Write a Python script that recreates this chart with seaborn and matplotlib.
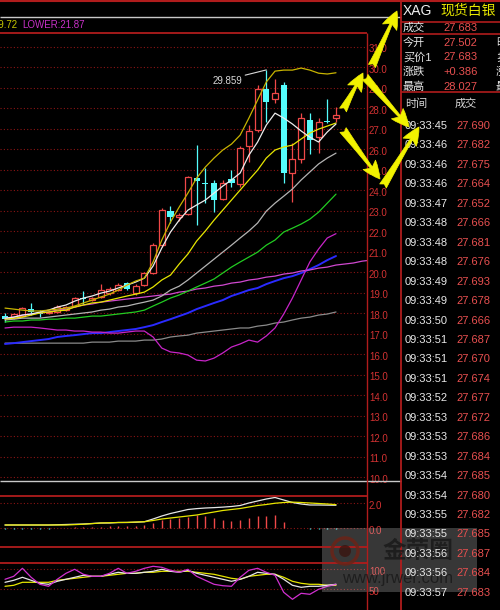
import numpy as np
import pandas as pd
import matplotlib
matplotlib.use("Agg")
import matplotlib.pyplot as plt
import matplotlib.transforms as mtransforms
from matplotlib.patches import Rectangle, Circle
import seaborn as sns

# XAG candles, oldest first
opens = [17.85, 17.75, 17.85, 18.19, 18.05, 18.00, 18.05, 18.14, 18.34, 18.75,
         18.63, 18.78, 18.97, 19.12, 19.46, 18.97, 19.36, 19.95, 21.31, 22.97,
         22.68, 22.83, 24.58, 24.35, 24.34, 23.56, 24.53, 24.29, 26.14, 26.92,
         28.92, 28.44, 29.12, 24.83, 25.51, 27.41, 26.58, 27.39, 27.50]
highs = [18.00, 18.00, 18.30, 18.49, 18.14, 18.10, 18.40, 18.35, 18.78, 19.07,
         18.80, 19.40, 19.25, 19.45, 19.50, 19.40, 20.00, 21.40, 23.10, 23.22,
         22.88, 24.70, 26.19, 25.07, 24.49, 24.49, 24.97, 26.14, 27.17, 29.12,
         29.859, 29.41, 29.27, 26.29, 27.75, 27.75, 27.51, 28.46, 28.03]
lows = [17.56, 17.70, 17.80, 17.90, 17.80, 17.95, 18.00, 18.10, 18.30, 18.44,
        18.60, 18.75, 18.90, 19.05, 19.10, 18.90, 19.30, 19.90, 21.20, 22.39,
        22.49, 22.80, 22.29, 23.36, 22.92, 23.50, 24.14, 24.14, 25.36, 26.83,
        27.31, 28.24, 24.34, 23.41, 25.31, 25.75, 25.80, 27.27, 27.31]
closes = [17.70, 17.95, 18.24, 18.05, 17.98, 18.05, 18.29, 18.29, 18.73, 18.68,
          18.73, 19.12, 19.17, 19.36, 19.17, 19.31, 19.95, 21.31, 23.02, 22.68,
          22.78, 24.63, 24.44, 24.30, 23.51, 24.34, 24.34, 26.05, 26.88, 28.92,
          28.29, 28.73, 24.83, 25.51, 27.51, 26.44, 27.31, 27.34, 27.68]

# BOLL bands
boll_upper = [18.24, 18.19, 18.14, 18.10, 18.10, 18.14, 18.19, 18.24, 18.34, 18.49,
              18.63, 18.78, 18.92, 19.12, 19.36, 19.56, 19.70, 20.49, 21.56, 22.44,
              23.17, 23.85, 24.58, 25.12, 25.56, 25.95, 26.24, 26.68, 27.51, 28.39,
              29.27, 29.80, 29.85, 29.85, 29.95, 29.85, 29.70, 29.66, 29.72]
boll_mid = [17.66, 17.70, 17.75, 17.75, 17.75, 17.80, 17.85, 17.90, 17.95, 18.00,
            18.05, 18.14, 18.19, 18.29, 18.34, 18.44, 18.53, 18.63, 18.83, 19.12,
            19.31, 19.61, 19.95, 20.29, 20.63, 20.97, 21.31, 21.66, 22.00, 22.39,
            22.97, 23.36, 23.70, 24.05, 24.49, 24.88, 25.27, 25.56, 25.80]
boll_lower = [17.27, 17.31, 17.31, 17.31, 17.27, 17.22, 17.17, 17.17, 17.12, 17.12,
              17.07, 17.07, 17.02, 17.02, 17.07, 17.12, 17.12, 16.83, 16.29, 16.10,
              16.05, 15.95, 15.70, 15.66, 15.80, 16.05, 16.34, 16.49, 16.68, 16.58,
              16.88, 17.27, 17.95, 18.73, 19.61, 20.49, 21.12, 21.66, 21.87]

# moving averages
ma_white = [17.75, 17.80, 17.90, 17.95, 18.05, 18.14, 18.29, 18.39, 18.58, 18.73,
            18.83, 18.97, 19.07, 19.22, 19.36, 19.51, 19.70, 20.29, 21.17, 21.95,
            22.53, 23.02, 23.27, 23.51, 23.85, 24.19, 24.49, 24.83, 25.70, 26.34,
            27.17, 27.75, 27.51, 27.22, 26.88, 26.58, 26.34, 26.83, 27.22]
ma_yellow = [17.70, 17.75, 17.80, 17.90, 18.00, 18.05, 18.10, 18.14, 18.29, 18.39,
             18.49, 18.53, 18.63, 18.73, 18.83, 18.92, 19.02, 19.27, 19.61, 19.85,
             20.39, 20.88, 21.51, 22.00, 22.53, 23.02, 23.51, 24.00, 24.49, 24.97,
             25.56, 25.95, 26.10, 26.19, 26.49, 26.78, 26.97, 27.12, 27.27]
ma_green = [17.56, 17.61, 17.61, 17.66, 17.66, 17.70, 17.70, 17.75, 17.75, 17.80,
            17.85, 17.85, 17.90, 17.95, 18.00, 18.05, 18.14, 18.34, 18.53, 18.73,
            18.88, 19.07, 19.27, 19.46, 19.66, 19.95, 20.24, 20.49, 20.73, 20.97,
            21.31, 21.56, 21.95, 22.14, 22.34, 22.58, 22.92, 23.36, 23.80]
ma_magenta = [17.75, 17.80, 17.90, 17.95, 18.00, 18.05, 18.14, 18.19, 18.29, 18.39,
              18.44, 18.53, 18.58, 18.63, 18.68, 18.73, 18.78, 18.83, 18.88, 18.92,
              19.02, 19.07, 19.17, 19.22, 19.31, 19.36, 19.46, 19.51, 19.61, 19.66,
              19.75, 19.80, 19.90, 19.95, 20.05, 20.10, 20.19, 20.24, 20.34, 20.39,
              20.44, 20.53, 20.58]
ma_blue = [16.49, 16.53, 16.58, 16.63, 16.68, 16.73, 16.83, 16.88, 16.92, 16.97,
           17.02, 17.02, 17.07, 17.12, 17.17, 17.22, 17.31, 17.41, 17.56, 17.70,
           17.85, 18.00, 18.19, 18.34, 18.49, 18.63, 18.83, 18.97, 19.12, 19.22,
           19.41, 19.56, 19.70, 19.80, 19.95, 20.14, 20.34, 20.58, 20.78]
ma_gray = [16.53, 16.53, 16.53, 16.53, 16.53, 16.53, 16.53, 16.53, 16.53, 16.53,
           16.58, 16.58, 16.58, 16.63, 16.63, 16.63, 16.68, 16.68, 16.73, 16.83,
           16.88, 16.92, 17.02, 17.07, 17.12, 17.17, 17.22, 17.27, 17.27, 17.36,
           17.41, 17.51, 17.56, 17.66, 17.75, 17.80, 17.90, 17.95, 18.05]

# MACD
dif = [0.26, 0.26, 0.26, 0.26, 0.26, 0.26, 0.28, 0.30, 0.32, 0.34,
       0.38, 0.42, 0.42, 0.46, 0.46, 0.48, 0.52, 0.74, 0.98, 1.18,
       1.34, 1.50, 1.57, 1.62, 1.65, 1.69, 1.74, 1.82, 2.02, 2.18,
       2.34, 2.46, 2.26, 2.06, 1.94, 1.86, 1.86, 1.85, 1.84]
dea = [0.26, 0.26, 0.26, 0.26, 0.26, 0.26, 0.26, 0.26, 0.29, 0.32,
       0.37, 0.42, 0.44, 0.46, 0.47, 0.50, 0.52, 0.62, 0.74, 0.82,
       0.90, 0.98, 1.06, 1.18, 1.30, 1.42, 1.50, 1.58, 1.70, 1.82,
       1.90, 2.00, 2.06, 2.09, 2.06, 2.02, 1.98, 1.94, 1.89]
macd_bar = [-0.04, -0.04, -0.04, -0.04, -0.04, -0.04, 0.04, 0.04, 0.08, 0.08,
            0.08, 0.08, 0.19, 0.19, 0.19, 0.19, 0.27, 0.45, 0.67, 0.75,
            0.80, 0.93, 1.07, 0.99, 0.80, 0.67, 0.59, 0.67, 0.80, 0.99,
            0.99, 1.07, 0.53, 0.0, 0.0, -0.06, -0.06, -0.06, -0.06]

# KDJ
k_line = [67.5, 72.5, 80, 72.5, 65, 62.5, 70, 75, 80, 85,
          82.5, 82.5, 87.5, 92.5, 90, 90, 92.5, 95, 100, 95,
          92.5, 97.5, 90, 85, 80, 75, 70, 75, 82.5, 92.5,
          90, 87.5, 75, 60, 55, 57.5, 57.5, 60, 62.5]
d_line = [57.5, 60, 67.5, 67.5, 67.5, 67.5, 72.5, 75, 77.5, 80,
          82.5, 82.5, 85, 87.5, 90, 90, 92.5, 92.5, 95, 95,
          95, 95, 92.5, 90, 87.5, 82.5, 77.5, 75, 82.5, 85,
          87.5, 87.5, 80, 70, 65, 62.5, 62.5, 60, 60]
j_line = [75, 82.5, 102.5, 80, 62.5, 57.5, 75, 90, 100, 87.5,
          82.5, 82.5, 90, 102.5, 90, 95, 102.5, 107.5, 105, 97.5,
          92.5, 100, 82.5, 72.5, 62.5, 59, 57.5, 80, 97.5, 102.5,
          92.5, 85, 42.5, 25, 40, 37.5, 50, 57.5, 62.5]

# quote panel
quote_labels = ["成交", "今开", "买价1", "涨跌", "最高"]
quote_values = ["27.683", "27.502", "27.683", "+0.386", "28.027"]
quote_right = ["", "昨收", "卖价1", "涨幅", "最低"]
tick_times = ["09:33:45", "09:33:46", "09:33:46", "09:33:46", "09:33:47",
              "09:33:48", "09:33:48", "09:33:48", "09:33:49", "09:33:49",
              "09:33:50", "09:33:51", "09:33:51", "09:33:51", "09:33:52",
              "09:33:53", "09:33:53", "09:33:53", "09:33:54", "09:33:54",
              "09:33:55", "09:33:55", "09:33:56", "09:33:56", "09:33:57"]
tick_prices = ["27.690", "27.682", "27.675", "27.664", "27.652",
               "27.666", "27.681", "27.676", "27.693", "27.678",
               "27.666", "27.687", "27.670", "27.674", "27.677",
               "27.672", "27.686", "27.684", "27.685", "27.680",
               "27.682", "27.685", "27.687", "27.684", "27.683"]

sns.set_theme(style="dark", rc={"axes.facecolor": "black", "figure.facecolor": "black"})
plt.rcParams["font.family"] = ["Liberation Sans", "Noto Sans CJK SC", "DejaVu Sans"]

W, H = 500, 610
UP, DOWN = "#f04848", "#54fcfc"
RED_LINE = "#b01c1c"
GRID = "#8a1414"
LABEL = "#d23232"
YEL = "#f2f200"
XMIN, XMAX = -0.574, 41.56

fig = plt.figure(figsize=(W / 100, H / 100), dpi=100)
fig.patch.set_facecolor("black")


def panel(x0, y0, x1, y1):
    ax = fig.add_axes([x0 / W, 1 - y1 / H, (x1 - x0) / W, (y1 - y0) / H])
    ax.set_facecolor("black")
    for s in ax.spines.values():
        s.set_visible(False)
    return ax


def line(ax, vals, color, lw=0.9):
    d = pd.DataFrame({"i": np.arange(len(vals)), "v": vals})
    sns.lineplot(data=d, x="i", y="v", color=color, linewidth=lw, ax=ax,
                 errorbar=None, legend=False, zorder=3)


def finish(ax, ylim, levels, fmt):
    ax.set_xlim(XMIN, XMAX)
    ax.set_ylim(*ylim)
    ax.set_xticks([])
    ax.set_yticks([])
    ax.set_xlabel("")
    ax.set_ylabel("")
    for v in levels:
        ax.axhline(v, color=GRID, lw=0.8, ls=(0, (1, 2)), zorder=0)
    tr = mtransforms.offset_copy(ax.get_yaxis_transform(), fig=fig, x=2, y=-2.5, units="dots")
    for v in levels:
        ax.text(1.0, v, fmt.format(v), transform=tr, ha="left", va="center",
                fontsize=7, color=LABEL, clip_on=False)


# ---- main price panel ----
ax = panel(0, 33, 367, 481)
o, h, l, c = map(np.array, (opens, highs, lows, closes))
idx = np.arange(len(o))
up = c >= o
for i in idx:
    if up[i]:
        ax.vlines(i, max(c[i], o[i] + 0.05), h[i], color=UP, lw=0.9, zorder=2)
        ax.vlines(i, l[i], o[i], color=UP, lw=0.9, zorder=2)
    else:
        ax.vlines(i, l[i], h[i], color=DOWN, lw=0.9, zorder=2)
ax.bar(idx[up], np.maximum((c - o)[up], 0.05), bottom=o[up], width=0.7,
       facecolor="black", edgecolor=UP, linewidth=0.9, zorder=2)
ax.bar(idx[~up], np.maximum((o - c)[~up], 0.08), bottom=np.minimum(c, o - 0.08)[~up],
       width=0.7, color=DOWN, linewidth=0, zorder=2)

line(ax, ma_gray, "#8a8a8a")
line(ax, ma_blue, "#2a2aff", 1.4)
line(ax, ma_magenta, "#d048d0")
line(ax, ma_green, "#22cc22")
line(ax, boll_lower, "#c824c8")
line(ax, boll_mid, "#b4b4b4")
line(ax, ma_yellow, "#e6e600")
line(ax, ma_white, "#ececec")
line(ax, boll_upper, "#c8b400")

ax.annotate("29.859", xy=(30, 29.859), xytext=(27.2, 29.32), ha="right", va="center",
            fontsize=7, color="#d8d8d8",
            arrowprops=dict(arrowstyle="-", color="#d8d8d8", lw=0.8, relpos=(1, 1),
                            shrinkA=0, shrinkB=0))
finish(ax, (9.805, 31.66), list(range(10, 32)), "{:.1f}")

# ---- MACD panel ----
ax2 = panel(0, 496, 367, 547)
bars = np.array(macd_bar)
ax2.vlines(idx, 0, bars, colors=[UP if b >= 0 else DOWN for b in bars], lw=1.0, zorder=2)
line(ax2, dif, "#e6e6e6")
line(ax2, dea, "#e6e600")
finish(ax2, (-1.50, 2.58), [0.0, 2.0], "{:.1f}")

# ---- KDJ panel ----
ax3 = panel(0, 563, 367, 610)
line(ax3, d_line, "#e6e600")
line(ax3, k_line, "#e6e6e6")
line(ax3, j_line, "#d030d0")
finish(ax3, (-1.75, 115.75), [50, 100], "{:d}")

# ---- frame, quote panel, annotations ----
ov = fig.add_axes([0, 0, 1, 1])
ov.set_xlim(0, W)
ov.set_ylim(H, 0)
ov.axis("off")

ov.hlines(1, 0, W, color=RED_LINE, lw=1.5)
ov.hlines([17, 480.5], 0, 401, color="#c8c8c8", lw=1.0)
ov.hlines([33, 496, 547, 563], 0, 367, color=RED_LINE, lw=1.3)
ov.vlines(367, 33, H, color=RED_LINE, lw=1.0)
ov.vlines(401, 0, H, color=RED_LINE, lw=1.3)
ov.hlines([22, 34, 92], 401, W, color=RED_LINE, lw=1.2)

ov.text(17, 25, "UPPER:29.72", ha="right", va="center", fontsize=7, color="#c8c800")
ov.text(22, 25, "LOWER:21.87", ha="left", va="center", fontsize=7, color="#c830c8")

ov.text(403, 11, "XAG", ha="left", va="center", fontsize=10, color="#f0f0f0")
ov.text(440, 11, "现货白银", ha="left", va="center", fontsize=10, color="#e6e600")
for k, (lab, val, rgt) in enumerate(zip(quote_labels, quote_values, quote_right)):
    y = 28 + 14.7 * k
    ov.text(403, y, lab, ha="left", va="center", fontsize=8, color="#e6e6e6")
    ov.text(443, y, val, ha="left", va="center", fontsize=8, color="#e85050")
    if rgt:
        ov.text(496, y, rgt, ha="left", va="center", fontsize=8, color="#e6e6e6")
ov.text(405, 104, "时间", ha="left", va="center", fontsize=8, color="#d8d8d8")
ov.text(455, 104, "成交", ha="left", va="center", fontsize=8, color="#d8d8d8")

# watermark
ov.add_patch(Rectangle((322, 528), 155, 64, facecolor="white", alpha=0.22, lw=0, zorder=1))
ov.add_patch(Circle((345, 551), 13, fill=False, ec="#6a2418", lw=2.5, alpha=0.85, zorder=2))
ov.add_patch(Circle((345, 551), 6, fc="#3a1510", ec="none", alpha=0.8, zorder=2))
ov.text(418, 551, "金荣圈", ha="center", va="center", fontsize=17, fontweight="bold",
        color="#181818", alpha=0.8, zorder=2)
ov.text(398, 578, "www.jrwer.com", ha="center", va="center", fontsize=12,
        color="#181818", alpha=0.8, zorder=2)

for k, (t, p) in enumerate(zip(tick_times, tick_prices)):
    y = 126 + 19.45 * k
    ov.text(405, y, t, ha="left", va="center", fontsize=8, color="#e8e8e8", zorder=3)
    ov.text(456, y, p, ha="left", va="center", fontsize=8, color="#e85050", zorder=3)

arrows = [((372, 66), (397, 11)), ((343, 110), (363, 73)), ((365, 77), (409, 127)),
          ((343, 130), (380, 179)), ((383, 186), (419, 127))]
for tail, head in arrows:
    ov.annotate("", xy=head, xytext=tail, zorder=5,
                arrowprops=dict(arrowstyle="fancy,head_length=0.8,head_width=0.7,tail_width=0.35",
                                fc=YEL, ec=YEL, lw=0.5, mutation_scale=16,
                                shrinkA=0, shrinkB=0))

fig.savefig("out.png", dpi=100, facecolor="black")
